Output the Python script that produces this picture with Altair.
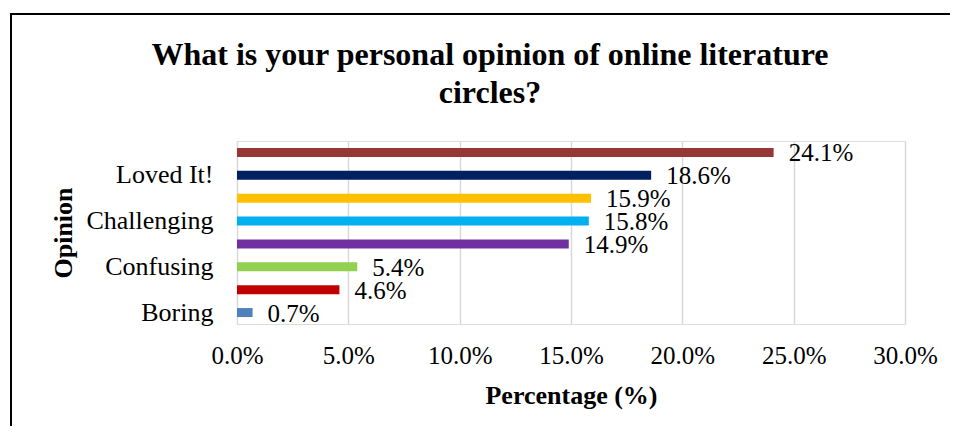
import altair as alt
import pandas as pd

# Categories listed top to bottom (Excel shows every other label)
categories = ["Enjoyed It", "Loved It!", "Interesting", "Challenging",
              "Okay", "Confusing\u00a0", "Frustrating", "Boring"]
shown_labels = ["Loved It!", "Challenging", "Confusing\u00a0", "Boring"]
values = [0.241, 0.186, 0.159, 0.158, 0.149, 0.054, 0.046, 0.007]
colors = ["#953735", "#002060", "#FFC000", "#00B0F0",
          "#7030A0", "#92D050", "#C00000", "#4F81BD"]
x_ticks = [0.0, 0.05, 0.10, 0.15, 0.20, 0.25, 0.30]

df = pd.DataFrame({"Opinion": categories, "Percentage": values, "color": colors})

FONT = "Liberation Serif"
W, H = 668, 183

label_expr = ("indexof(['Loved It!', 'Challenging', 'Confusing\u00a0', 'Boring'], datum.value) >= 0"
              " ? datum.value : ''")

y_enc = alt.Y(
    "Opinion:N",
    sort=categories,
    scale=alt.Scale(paddingInner=0, paddingOuter=0),
    axis=alt.Axis(
        title="Opinion", titleFont=FONT, titleFontSize=26, titleFontWeight="bold",
        titleColor="#000", titleX=-161, titleAngle=270, titleBaseline="bottom",
        labelFont=FONT, labelFontSize=26, labelColor="#000", labelPadding=24,
        labelExpr=label_expr, ticks=False, tickSize=0, domain=False, grid=False,
        labelOverlap=False,
    ),
)

x_enc = alt.X(
    "Percentage:Q",
    scale=alt.Scale(domain=[0, 0.30], nice=False),
    axis=alt.Axis(
        title="Percentage (%)", titleFont=FONT, titleFontSize=26, titleFontWeight="bold",
        titleColor="#000", titleBaseline="alphabetic", titleY=79,
        labelFont=FONT, labelFontSize=25, labelColor="#000", labelPadding=19,
        values=x_ticks, format=".1%", ticks=False, tickSize=0, domain=False,
        grid=True, gridColor="#d9d9d9", gridWidth=1.5, labelFlush=False,
    ),
)

bars = alt.Chart(df).mark_bar(size=9).encode(
    x=x_enc,
    y=y_enc,
    color=alt.Color("color:N", scale=None, legend=None),
)

labels = alt.Chart(df).mark_text(
    align="left", baseline="middle", dx=15, dy=1, font=FONT, fontSize=25, color="#000"
).encode(
    x="Percentage:Q",
    y=alt.Y("Opinion:N", sort=categories),
    text=alt.Text("Percentage:Q", format=".1%"),
)

border_top = alt.Chart(df).mark_rule(color="#000", strokeWidth=2).encode(
    x=alt.value(-227), x2=alt.value(725), y=alt.value(-127)
)
border_left = alt.Chart(df).mark_rule(color="#000", strokeWidth=2).encode(
    x=alt.value(-226), y=alt.value(-127), y2=alt.value(300)
)

chart = alt.layer(bars, labels, border_top, border_left).properties(
    width=W,
    height=H,
    padding={"left": 229, "top": 133, "right": 45, "bottom": 102},
    autosize=alt.AutoSizeParams(type="none"),
    title=alt.Title(
        text=["What is your personal opinion of online literature", "circles?"],
        font=FONT, fontSize=32, fontWeight="bold", color="#000", lineHeight=38,
        anchor="middle", frame="group", dx=-81, offset=0, baseline="alphabetic", dy=122,
    ),
).configure_view(
    stroke="transparent", strokeWidth=0
).configure_axis(
    domain=False, ticks=False
).configure(background="white")

chart.save("out.html", embed_options={"renderer": "svg", "actions": False})
